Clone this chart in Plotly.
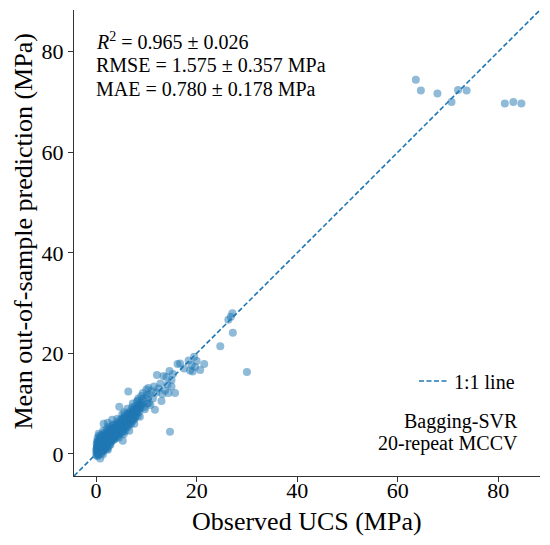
"""Bagging-SVR: observed vs mean out-of-sample prediction (20-repeat MCCV)"""
import plotly.graph_objects as go

# observed UCS (MPa) and mean predicted UCS (MPa)
observed = [
    0.1, 0.2, 0.3, 0.4, 0.5, 0.6, 0.7, 0.8, 0.9, 0.2, 0.3, 0.5, 0.6, 0.8, 0.9, 0.1, 0.4, 0.7, 0.3, 0.8, 1.0, 0.5, 0.2, 0.9,
    0.0, 0.1, 0.2, 0.3, 0.4, 0.5, 0.6, 0.7, 0.8, 0.9, 1.0, 1.0,
    0.15, 0.35, 0.55, 0.75, 0.95, 0.05, 0.45,
    1.1, 1.2, 1.3, 1.4, 1.5, 1.6, 1.7, 1.8, 1.9, 1.1, 1.3, 1.5, 1.7, 1.9, 1.2, 1.6, 1.4, 1.8, 1.5, 2.0,
    1.1, 1.2, 1.3, 1.4, 1.5, 1.6, 1.7, 1.8, 1.9, 2.0,
    1.05, 1.25, 1.45, 1.65, 1.85, 1.35,
    2.1, 2.2, 2.3, 2.4, 2.5, 2.6, 2.7, 2.8, 2.9, 2.2, 2.5, 2.7, 2.9, 2.1, 2.4, 2.6, 2.3,
    2.1, 2.2, 2.3, 2.4, 2.5, 2.6, 2.7, 2.8, 2.9,
    2.05, 2.25, 2.45, 2.65, 2.85, 2.35,
    3.1, 3.2, 3.3, 3.4, 3.5, 3.6, 3.7, 3.8, 3.9, 3.2, 3.5, 3.8, 3.0, 3.6, 3.3, 3.9,
    3.0, 3.1, 3.2, 3.3, 3.4, 3.5, 3.6, 3.7, 3.8, 3.9,
    3.05, 3.25, 3.45, 3.65, 3.85,
    4.1, 4.2, 4.3, 4.4, 4.5, 4.6, 4.7, 4.8, 4.9, 4.2, 4.5, 4.7, 4.9, 4.6, 4.0,
    4.0, 4.1, 4.2, 4.3, 4.4, 4.5, 4.6, 4.7, 4.8, 4.9,
    4.05, 4.25, 4.45, 4.65, 4.85,
    5.1, 5.2, 5.3, 5.4, 5.5, 5.6, 5.7, 5.8, 5.9, 5.2, 5.5, 5.8, 5.3, 5.6, 6.0,
    5.0, 5.1, 5.2, 5.4, 5.5, 5.7, 5.9, 6.0,
    5.05, 5.25, 5.45, 5.65, 5.85, 5.15, 5.55, 5.95,
    6.1, 6.2, 6.3, 6.4, 6.5, 6.6, 6.7, 6.8, 6.9, 6.4, 6.6, 6.2,
    6.3, 6.5, 6.8, 6.05, 6.25, 6.45, 6.65, 6.85, 6.15, 6.55, 6.95,
    7.1, 7.2, 7.3, 7.4, 7.5, 7.6, 7.7, 7.8, 7.9, 7.3, 7.6,
    7.0, 7.2, 7.5, 7.8, 8.0, 7.05, 7.25, 7.45, 7.65, 7.85, 7.15, 7.55, 7.95,
    8.1, 8.2, 8.3, 8.5, 8.6, 8.8, 8.9, 8.1, 8.7, 8.4,
    8.05, 8.25, 8.45, 8.65, 8.35, 8.75,
    9.1, 9.3, 9.5, 9.7, 9.9, 10.2, 10.4, 10.6, 10.8, 11.0, 11.3, 11.5, 11.7, 12.0, 10.0, 9.0,
    9.2, 9.6, 10.1, 10.5,
    12.1, 12.4, 12.8, 13.2, 13.4, 13.7, 14.0, 14.2, 14.4, 14.7, 15.0, 15.0, 15.3, 15.7, 14.6, 13.0,
    16.2, 16.7, 17.5, 18.4, 19.0, 18.7, 19.2, 19.7, 20.0, 20.7, 21.5, 19.5,
    24.7, 26.3, 26.8, 27.1, 27.2, 30.0,
    63.6, 64.6, 67.9, 70.7, 72.0, 73.7, 81.3, 83.0, 84.6,
]
predicted = [
    0.2, 0.8, 1.5, 0.5, 2.1, 1.2, 2.8, 0.3, 1.8, 2.5, 3.2, 0.0, 3.6, 2.4, 3.0, 1.1, 1.9, 1.0, -0.4, -0.9, 0.6, 4.0, 1.6, 0.9,
    0.6, 2.0, 0.0, 0.9, 2.7, 1.4, 0.4, 1.7, 3.3, 2.1, 1.5, 2.9,
    1.3, 2.2, 0.9, 2.3, 1.2, -0.3, -0.2,
    1.4, 2.6, 0.8, 3.4, 1.9, 4.2, 2.3, 1.2, 3.1, 3.8, 2.0, 2.9, 3.7, 2.0, 0.4, 0.9, 4.6, 4.0, 6.0, 2.6,
    0.2, 1.8, 3.0, 1.2, 2.4, 3.1, 1.5, 2.7, 1.0, 3.6,
    2.2, 3.3, 0.6, 2.0, 3.4, -0.1,
    1.6, 3.3, 4.4, 2.2, 3.8, 5.0, 2.9, 4.1, 3.4, 1.0, 1.5, 4.7, 5.3, 4.9, 5.4, 2.4, 6.2,
    2.7, 2.0, 3.0, 3.7, 2.6, 3.3, 1.9, 3.0, 2.4,
    1.3, 2.6, 4.3, 3.9, 1.8, 0.8,
    2.5, 4.0, 5.1, 3.3, 4.6, 5.7, 3.6, 4.9, 6.0, 6.8, 2.8, 3.0, 3.6, 4.2, 5.8, 5.3,
    4.4, 3.4, 2.9, 4.3, 4.0, 3.7, 3.1, 4.5, 4.0, 4.6,
    3.0, 3.7, 5.0, 4.8, 3.5,
    4.3, 5.5, 3.5, 6.4, 4.9, 5.9, 3.9, 6.8, 5.2, 7.0, 3.2, 4.5, 6.1, 9.4, 5.0,
    3.8, 5.1, 4.6, 5.6, 4.0, 5.5, 4.8, 5.6, 5.1, 4.4,
    4.5, 4.0, 5.8, 4.2, 6.2,
    5.6, 4.2, 6.5, 7.2, 5.0, 6.0, 7.6, 4.6, 6.8, 7.9, 3.9, 5.6, 2.6, 8.3, 7.1,
    6.3, 4.8, 6.1, 5.4, 6.7, 5.2, 6.1, 5.5,
    5.3, 5.8, 4.5, 7.0, 6.4, 6.9, 5.7, 7.3,
    6.2, 7.4, 5.3, 8.1, 6.7, 7.8, 5.9, 8.5, 7.0, 12.4, 4.6, 9.0,
    6.8, 7.3, 6.5, 6.6, 5.8, 7.6, 6.2, 7.5, 7.1, 8.0, 6.0,
    7.5, 8.4, 6.6, 9.0, 7.9, 8.8, 7.1, 9.5, 8.2, 10.0, 6.0,
    8.0, 7.0, 8.5, 7.7, 9.0, 6.8, 7.8, 8.2, 7.4, 8.8, 9.3, 6.9, 8.4,
    8.6, 9.3, 7.6, 9.8, 8.4, 9.1, 10.2, 10.4, 7.4, 11.0,
    8.0, 8.7, 8.9, 9.5, 10.6, 9.9,
    9.6, 12.1, 10.5, 8.9, 11.2, 10.0, 13.1, 11.8, 9.7, 12.5, 11.0, 13.4, 8.8, 12.2, 12.8, 11.5,
    10.9, 9.3, 11.7, 10.1,
    15.7, 13.0, 14.0, 11.9, 15.5, 12.6, 15.3, 13.8, 12.1, 4.4, 14.7, 13.4, 15.9, 12.1, 16.5, 10.5,
    17.9, 18.0, 17.0, 18.6, 17.7, 16.6, 16.4, 17.3, 18.5, 16.7, 17.9, 19.3,
    21.4, 26.7, 27.3, 28.0, 24.1, 16.3,
    74.4, 72.3, 71.7, 70.0, 72.4, 72.3, 69.7, 70.0, 69.7,
]

axis_range = [-4.4, 88.3]
tick_vals = [0, 20, 40, 60, 80]

metric_lines = [
    "<i>R</i><sup>2</sup> = 0.965 ± 0.026",
    "RMSE = 1.575 ± 0.357 MPa",
    "MAE = 0.780 ± 0.178 MPa",
]
model_lines = ["Bagging-SVR", "20-repeat MCCV"]

FONT = "Liberation Serif"
BLUE = "#1f77b4"

fig = go.Figure()

fig.add_trace(go.Scatter(
    x=axis_range, y=axis_range, mode="lines", name="1:1 line",
    line=dict(color=BLUE, width=1.6, dash="5px,2.5px"),
))
fig.add_trace(go.Scatter(
    x=observed, y=predicted, mode="markers", showlegend=False,
    marker=dict(color=BLUE, size=8, opacity=0.5, line=dict(width=0)),
))

axis_style = dict(
    range=axis_range, tickvals=tick_vals, ticks="outside", ticklen=5, tickwidth=1.2,
    tickcolor="#333", showline=True, linecolor="#333", linewidth=1.2,
    showgrid=False, zeroline=False, tickfont=dict(family=FONT, size=22, color="black"),
)

# page body has an 8px default margin, so the plot box is shifted back by that
fig.update_layout(
    width=550, height=545,
    margin=dict(l=66, r=18, t=2, b=77),
    paper_bgcolor="white", plot_bgcolor="white",
    font=dict(family=FONT, color="black"),
    xaxis=dict(axis_style, ticklabelstandoff=-11),
    yaxis=axis_style,
    legend=dict(
        x=0.957, y=0.204, xanchor="right", yanchor="middle",
        bgcolor="rgba(0,0,0,0)", borderwidth=0,
        font=dict(family=FONT, size=20, color="black"),
    ),
)

# metrics block, top left
for i, txt in enumerate(metric_lines):
    fig.add_annotation(
        x=0.043, y=(476 - 41 - 24 * i) / 466, xref="paper", yref="paper",
        xanchor="left", yanchor="middle", text=txt, showarrow=False,
        font=dict(family=FONT, size=20, color="black"),
    )

# model label, bottom right
for i, txt in enumerate(model_lines):
    fig.add_annotation(
        x=0.957, y=(476 - 421 - 22 * i) / 466, xref="paper", yref="paper",
        xanchor="right", yanchor="middle", text=txt, showarrow=False,
        font=dict(family=FONT, size=20, color="black"),
    )

# axis titles
fig.add_annotation(
    x=0.5, y=-0.0987, xref="paper", yref="paper", xanchor="center", yanchor="middle",
    text="Observed UCS (MPa)", showarrow=False, font=dict(family=FONT, size=26, color="black"),
)
fig.add_annotation(
    x=-0.1105, y=0.5236, xref="paper", yref="paper", xanchor="center", yanchor="middle",
    text="Mean out-of-sample prediction (MPa)", textangle=-90, showarrow=False,
    font=dict(family=FONT, size=26, color="black"),
)

fig.write_html("out.html")
